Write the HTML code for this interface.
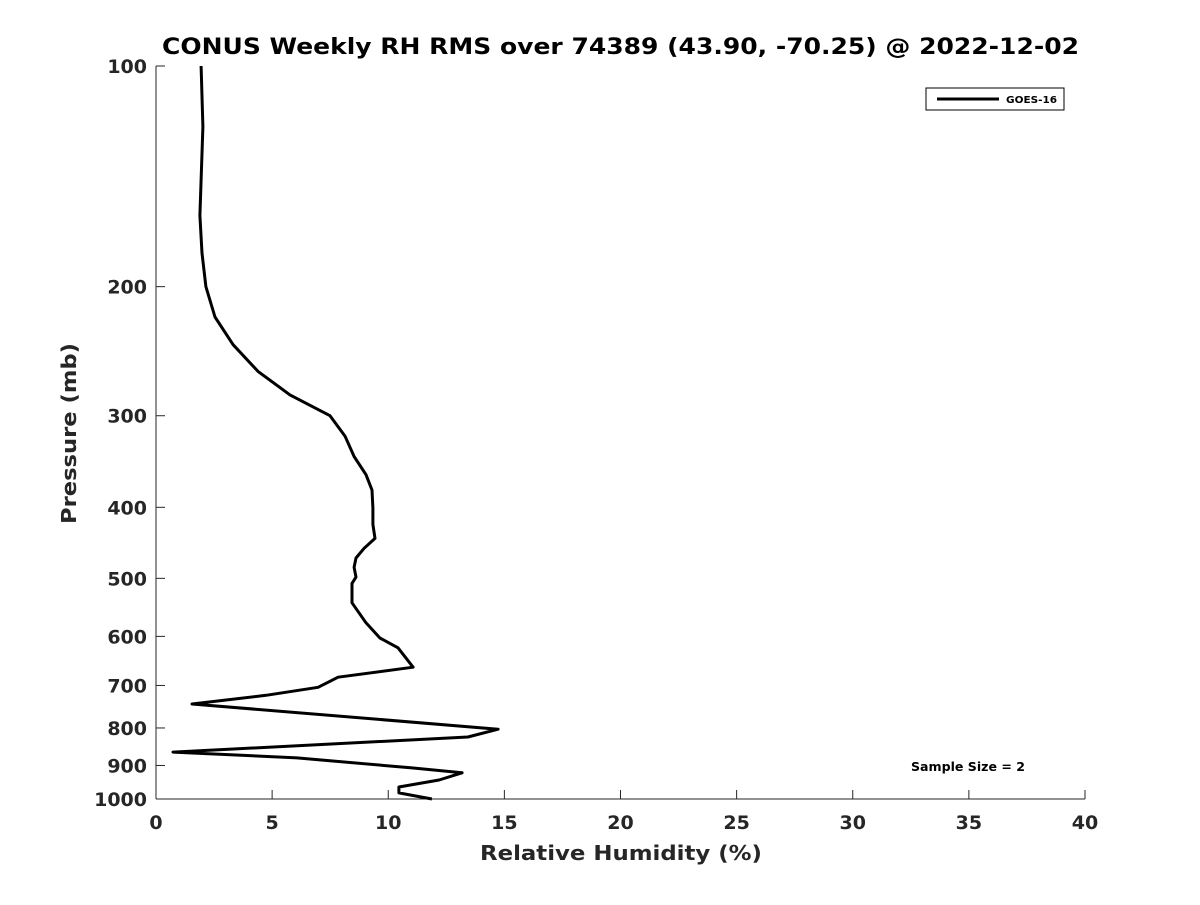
<!DOCTYPE html>
<html><head><meta charset="utf-8"><style>
body{margin:0;background:#fff;}
svg text{font-family:"DejaVu Sans","Liberation Sans",sans-serif;font-weight:bold;fill:#262626;}
</style></head><body>
<svg id="chart" width="1200" height="900" viewBox="0 0 1200 900" xmlns="http://www.w3.org/2000/svg">
<rect width="1200" height="900" fill="#fff"/>
<text x="162" y="54" font-size="22" textLength="917" lengthAdjust="spacingAndGlyphs" style="fill:#000">CONUS Weekly RH RMS over 74389 (43.90, -70.25) @ 2022-12-02</text>
<g id="axes"></g>
<text transform="translate(76,524) rotate(-90)" font-size="20" textLength="181" lengthAdjust="spacingAndGlyphs">Pressure (mb)</text>
<text x="480" y="860" font-size="20" textLength="282" lengthAdjust="spacingAndGlyphs">Relative Humidity (%)</text>
<g>
<rect x="926" y="88" width="138" height="22" fill="#fff" stroke="#000" stroke-width="1"/>
<line x1="937" y1="99" x2="999" y2="99" stroke="#000" stroke-width="3"/>
<text x="1006" y="103" font-size="10" textLength="51" lengthAdjust="spacingAndGlyphs" style="fill:#000">GOES-16</text>
</g>
<text x="911" y="771" font-size="12" textLength="114" lengthAdjust="spacingAndGlyphs" style="fill:#000">Sample Size = 2</text>
<path id="series" fill="none" stroke="#000" stroke-width="3" stroke-linejoin="round"/>
</svg>
<script>
const xTicks=[0,5,10,15,20,25,30,35,40];
const yTicks=[100,200,300,400,500,600,700,800,900,1000];
const pressure=[100,121,143,160,180,200,220,240,261,281,300,320,341,361,379,401,422,441,455,469,483,498,508,520,540,575,603,622,661,682,704,722,742,803,823,863,879,907,921,942,963,981,1000];
const rh=[1.94,2.02,1.94,1.89,1.98,2.15,2.54,3.32,4.39,5.77,7.49,8.14,8.53,9.04,9.30,9.34,9.34,9.43,8.96,8.61,8.53,8.61,8.44,8.44,8.44,9.04,9.64,10.42,11.07,7.84,6.98,4.74,1.55,14.73,13.43,0.73,6.07,11.02,13.18,12.19,10.46,10.46,11.88];
const X0=156,X1=1085,Y0=66,Y1=799;
const xs=v=>X0+(v-0)/(40-0)*(X1-X0);
const ys=p=>Y0+Math.log10(p/100)/Math.log10(1000/100)*(Y1-Y0);
const NS='http://www.w3.org/2000/svg';
const ax=document.getElementById('axes');
function mk(t,a){const e=document.createElementNS(NS,t);for(const k in a)e.setAttribute(k,a[k]);ax.appendChild(e);return e;}
let l=mk('line',{x1:X0,y1:Y0,x2:X0,y2:Y1,stroke:'#262626','stroke-width':1});


l=mk('line',{x1:X0,y1:Y1,x2:X1,y2:Y1,stroke:'#262626','stroke-width':1});


xTicks.forEach(v=>{const x=xs(v);
 const t=mk('line',{x1:x,y1:Y1,x2:x,y2:Y1-9,stroke:'#262626'});
 
 
 const tx=mk('text',{x:x,y:Y1+30,'text-anchor':'middle','font-size':19});tx.textContent=v;
 
 
});
yTicks.forEach(v=>{const y=ys(v);
 const t=mk('line',{x1:X0,y1:y,x2:X0+9,y2:y,stroke:'#262626'});
 
 
 const tx=mk('text',{x:X0-9,y:y+7,'text-anchor':'end','font-size':19});tx.textContent=v;
 
 
});
document.getElementById('series').setAttribute('d',pressure.map((p,i)=>(i?'L':'M')+xs(rh[i]).toFixed(1)+','+ys(p).toFixed(1)).join(''));
</script>
</body></html>
